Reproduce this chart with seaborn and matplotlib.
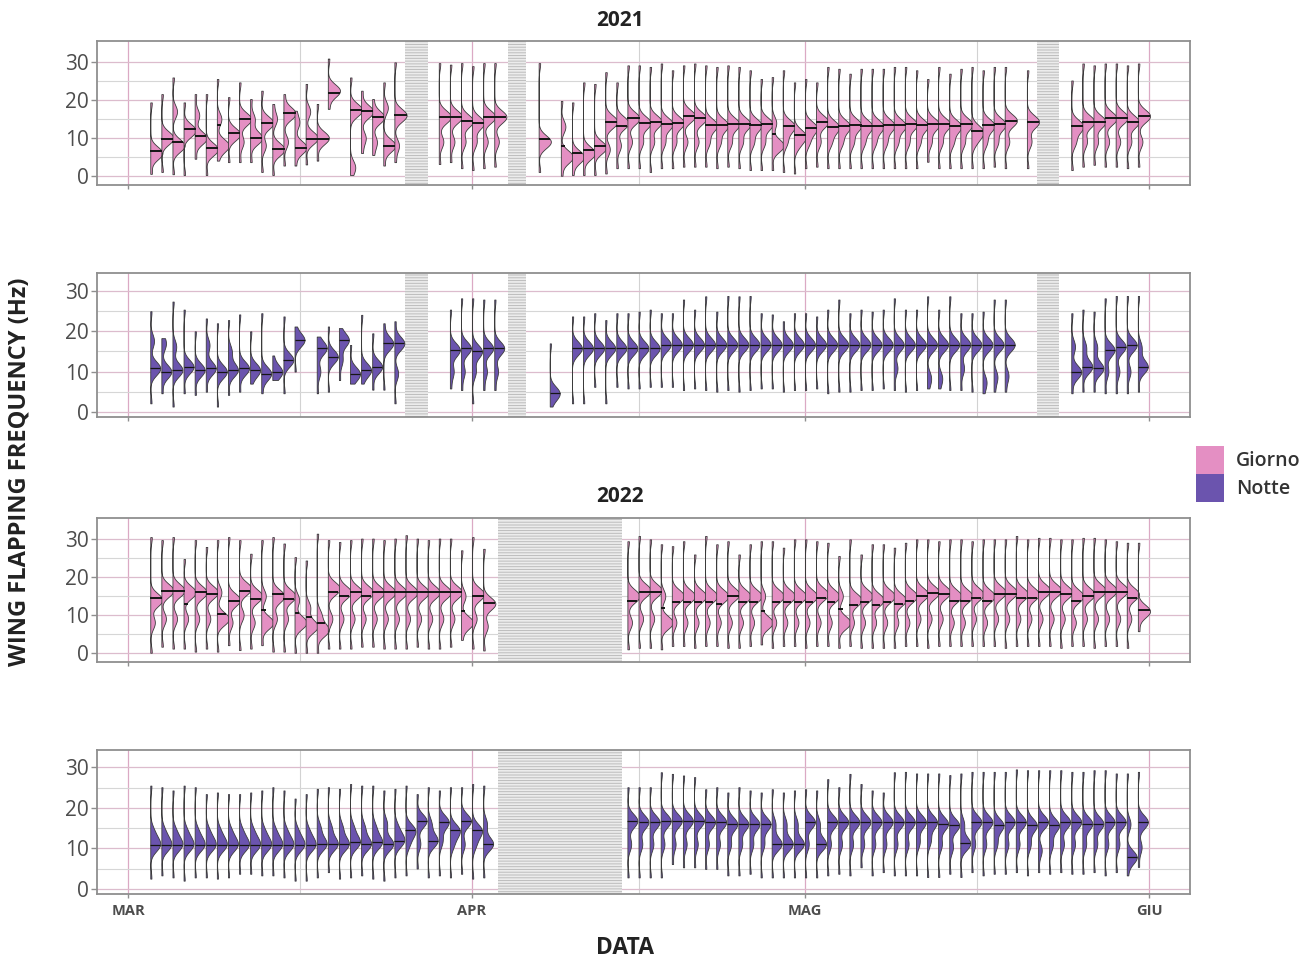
import numpy as np
import pandas as pd
import matplotlib
matplotlib.use("Agg")
import matplotlib.pyplot as plt
from matplotlib.collections import PolyCollection
from matplotlib.patches import Patch
import seaborn as sns

nan = np.nan

# Days are counted from 1 March (day 0).
month_pos = [0, 31, 61, 92]
month_lbl = ["MAR", "APR", "MAG", "GIU"]

# ---------------- 2021 - Giorno ----------------
g21_day = [*range(2, 19), *range(20, 25), *range(28, 34), 37, *range(39, 80), 81, *range(85, 92)]
g21_lo = [0.5, 1, 0.4, 0.2, 4.5, 0.2, 4, 3.6, 3.6, 3.6, 1, 0.2, 2.7, 2.7, 3, 4, 17.7,
          0.2, 6, 5.5, 2.7, 3.6,
          3.1, 3.6, 2, 1.5, 2, 2.4,
          1,
          0, 0.2, 0.2, 0.2, 0.6, 2, 2, 2, 1, 2, 2, 2.4, 2.4, 2.4, 2, 2.4, 2, 1.5, 1.5, 1.5,
          1, 0.6, 2, 2.4, 2, 2, 2, 2, 2, 2, 2, 2, 2, 3.7, 2, 2, 2, 2, 2, 2.4, 2,
          2,
          1.5, 2.4, 2.9, 2.4, 2.4, 2, 2.4]
g21_hi = [19.4, 21.6, 26, 19.4, 21.6, 21.6, 25.6, 20.8, 24.7, 20.3, 22.5, 19, 21.6, 17.2, 24.3, 19, 31,
          26, 22.5, 20.3, 24.7, 30,
          29.8, 29.4, 29.8, 29, 29.8, 29.8,
          29.8,
          19.8, 19.4, 24.7, 24.3, 27.4, 24.7, 29.2, 29.2, 28.8, 29.7, 27.9, 29.2, 29.7, 29.2,
          28.8, 29.2, 28.8, 27.9, 25.6, 26.1, 27.9, 24.7, 25.6, 24.7, 28.8, 28.3, 27, 28.3,
          28.3, 28.3, 28.8, 28.8, 27.9, 25.6, 28.8, 27, 28.3, 28.8, 27.9, 28.8, 28.8,
          27.9,
          25.2, 29.7, 29.2, 29.7, 29.7, 29.2, 29.7]
g21_peak = [6, 10, 8, 12, 10, 7, 8, 11, 15, 10, 14, 7, 16.5, 7.5, 10, 10, 22.5,
            17.4, 17, 15.5, 8, 16,
            15.6, 15.6, 14.5, 14, 15.6, 15.6,
            9,
            5, 5, 6, 7.5, 14.3, 14, 15.2, 14, 14.3, 13.7, 14, 15.8, 15.2, 13.4, 13.4, 13.7,
            13.7, 13.4, 13.7, 8, 13.1, 10.7, 12.7, 14.3, 12.9, 13.1, 13.4, 13.1, 13.1, 13.3,
            13.3, 13.6, 13.3, 13.6, 13.6, 13.1, 13.6, 11.8, 13.3, 13.6, 14.6,
            14.3,
            13.1, 14.3, 14.3, 15.2, 15.4, 14.3, 15.8]
g21_peak2 = [nan, nan, 17, nan, 16, nan, 15, nan, 9, 15, 8, 15, 9, 14, 17, nan, nan,
             2.5, 10, 9, 18, 8,
             9, 9, 9, 9, 9, 9,
             nan,
             13, nan, nan, nan, 7, 8, 9, 9, 9, 9, 9, 9, 9, 9, 9, 9, 9, 9, 9, 14, 9, 8, 9, 9,
             9, 9, 9, 9, 9, 9, 9, 9, 9, 9, 9, 9, 9, 9, 9, 9, 9,
             9,
             9, 9, 9, 9, 9, 9, 9]
g21_med = [6.5, 9.6, 9, 12.3, 10.5, 7.3, 13.4, 11.3, 15, 10, 13.9, 7, 16.5, 7.3, 9.6, 9.6, 22,
           17.4, 17, 15.6, 7.8, 16,
           15.6, 15.6, 14.5, 13.9, 15.6, 15.6,
           9.6,
           7.8, 6, 6.9, 7.8, 14.3, 13.1, 15.2, 14, 14.3, 13.7, 14, 15.8, 15.2, 13.4, 13.4, 13.7,
           13.7, 13.4, 13.7, 11.1, 13.1, 10.7, 12.7, 14.3, 12.9, 13.1, 13.4, 13.1, 13.1, 13.3,
           13.3, 13.6, 13.3, 13.6, 13.6, 13.1, 13.6, 11.8, 13.3, 13.6, 14.6,
           14.3,
           13.1, 14.3, 14.3, 15.2, 15.4, 14.3, 15.8]

# ---------------- 2021 - Notte ----------------
n21_day = [*range(2, 16), *range(17, 25), *range(29, 34), 38, *range(40, 80), *range(85, 92)]
n21_lo = [2.1, 4.6, 1.3, 4.6, 4.2, 5, 1.3, 4.2, 5, 7, 4.6, 7.9, 4.6, 10,
          4.6, 5, 7.9, 7, 7, 5.5, 5.5, 2.1,
          5.8, 5.4, 2.1, 5.4, 5.4,
          1.3,
          2.1, 2.1, 6.2, 2.1, 6.2, 5.8, 5.8, 6.2,
          6.2, 6.2, 5.4, 5.8, 5.4, 5.0, 5.4, 5.0, 5.4, 5.8, 5.8, 5.0, 5.4, 5.4, 5.8, 4.6,
          5.0, 5.0, 5.4, 5.4, 5.8, 5.4, 5.0, 5.4, 5.8, 5.8, 5.4, 5.4, 5.0, 4.6, 5.0, 5.0,
          4.6, 5, 5, 4.6, 4.6, 4.6, 5]
n21_hi = [25, 18.3, 27.4, 25.4, 20, 23.2, 22, 22.8, 24.2, 20, 24.5, 14, 23.7, 21.2,
          18.7, 21.2, 20.8, 16.6, 24.1, 19.5, 22, 22.5,
          25.4, 28.2, 28.2, 27.9, 27.9,
          17,
          23.7, 23.7, 24.5, 22.8, 24.5, 24.5, 24.9, 25.4,
          24.5, 24.5, 27.9, 25.4, 28.7, 24.9, 28.8, 28.7, 28.8, 24.5, 24.2, 22.5, 24.5, 24.5,
          23.7, 25.4, 27.9, 24.5, 25.4, 24.9, 25.4, 28.2, 25.4, 25.4, 28.7, 25.4, 28.7, 24.5,
          24.5, 24.9, 27.9, 27.9,
          24.5, 25.4, 24.9, 28.2, 28.8, 28.8, 28.8]
n21_peak = [10.8, 10, 10.4, 11.2, 10.4, 10.8, 10, 10.4, 10.8, 10.4, 9.5, 10, 12.9, 17.8,
            15.8, 13.7, 17.8, 9.5, 10.4, 11.2, 17, 17,
            15.4, 15.8, 15, 15.8, 15.8,
            4.6,
            15.8, 15.8, 15.8, 15.8, 15.8, 15.8, 15.8, 15.8,
            16.7, 16.7, 16.7, 16.7, 16.7, 16.7, 16.7, 16.7, 16.7, 16.7, 16.7, 16.7, 16.7, 16.7,
            16.7, 16.7, 16.7, 16.7, 16.7, 16.7, 16.7, 16.7, 16.7, 16.7, 16.7, 16.7, 16.7, 16.7,
            16.7, 16.7, 16.7, 16.7,
            9.9, 11.2, 10.8, 15.4, 16.2, 16.6, 11.2]
n21_peak2 = [17.6, 16.7, 16.2, nan, nan, 16.6, nan, 15, nan, nan, nan, nan, nan, nan,
             10, nan, 12.9, nan, nan, nan, nan, 9.5,
             10, 10, 10, 10, 10,
             nan,
             nan, nan, nan, nan, nan, nan, nan, nan,
             nan, nan, nan, nan, nan, nan, nan, nan, nan, nan, nan, nan, nan, nan,
             nan, nan, nan, nan, nan, nan, nan, 10.8, nan, nan, 8.5, 8.5, nan, 10.8,
             nan, 7.5, 8.7, 9,
             16.2, 16, 16, 10, 10, 10, 16]

# ---------------- 2022 - Giorno ----------------
g22_day = [*range(2, 33), *range(45, 92)]
g22_lo = [0, 1.6, 1.1, 1.1, 0.3, 1.1, 0.3, 2, 0.7, 1.1, 2, 0.3, 0.3, 0, 0, 0, 1.1, 1.1, 1.1,
          1.6, 1.6, 1.1, 1.1, 1.1, 1.6, 1.1, 1.1, 1.6, 3.4, 1.1, 0.6,
          0.9, 1.3, 1.3, 0.9, 1.8, 1.8, 1.3, 1.8, 1.8, 1.3, 1.3, 1.8, 2.2, 1.3, 1.8, 1.8,
          1.3, 1.8, 1.8, 1.3, 1.8, 1.3, 1.3, 1.3, 1.3, 1.8, 1.8, 1.3, 1.8, 1.8, 1.8, 1.8,
          1.8, 1.8, 1.3, 1.8, 1.8, 1.8, 1.8, 1.3, 1.8, 1.8, 1.3, 1.8, 1.8, 1.3, 5.7]
g22_hi = [30.6, 29.8, 30.6, 24.8, 29.8, 28, 29.8, 30.6, 29.8, 26.2, 29.8, 30.6, 28.9, 25.3,
          24.4, 31.5, 29.8, 29.3, 29.8, 30.2, 30.2, 29.8, 30.2, 31.1, 30.2, 29.8, 30.2, 30.2,
          27.1, 30.6, 27.5,
          29.5, 30.9, 30, 28.7, 28.2, 29.5, 26, 30.9, 28.7, 29.5, 26, 28.7, 29.5, 29.5, 27.8,
          30, 30, 29.5, 29.1, 25.6, 30, 26, 28.7, 28.7, 27.8, 29.1, 30, 30, 29.5, 30, 30,
          29.5, 30, 30, 30, 30.9, 30, 30.4, 30.4, 30, 30, 30.4, 30.4, 30, 29.5, 29.1, 29.1]
g22_peak = [14, 16.5, 16.5, 16, 16, 16, 9, 14, 17, 15, 8, 15, 15, 8, 7, 6, 17, 16, 16, 16,
            16, 16, 16, 16, 16, 16, 16, 16, 8, 15.5, 13,
            15, 16.5, 16.5, 8, 15, 15, 15, 15, 15, 15.5, 15, 15, 8, 15, 15, 15, 15, 15.5, 15,
            8, 14, 15, 14, 15, 14, 15, 15.5, 16, 16, 15, 15, 15.5, 15, 16, 16, 15.5, 15.5,
            16.5, 16.5, 16, 15, 15.5, 16.5, 16.5, 16.5, 15.5, 11]
g22_peak2 = [8, 9, 9, 9, 9, 9, 16, 8, 10, 8, 15, 9, 9, 14, 12, 10, 9, 9, 9, 9, 9, 9, 9, 9,
             9, 9, 9, 9, 15, 9, 7,
             8, 9, 9, 15, 8, 8, 8, 8, 8, 8, 8, 8, 15, 8, 8, 8, 8, 8, 8, 15, 8, 8, 8, 8, 8,
             8, 9, 9, 9, 8, 8, 9, 8, 9, 9, 9, 9, 9, 9, 9, 8, 9, 9, 9, 9, 9, nan]
g22_med = [14.4, 16.3, 16.3, 12.8, 16.2, 15.6, 10.3, 13.8, 16.3, 14.1, 11.4, 15.6, 14.1, 10.5,
           9.4, 7.9, 16, 15, 16, 15, 16, 16, 16, 16, 16, 16, 16, 16, 11, 15, 13.2,
           13.8, 16.1, 16.1, 11.9, 13.5, 13.5, 13.5, 13.5, 13, 15, 13.5, 13.5, 11, 13.5, 13.5,
           13.5, 13.5, 14.4, 13.5, 11.7, 12.6, 13.5, 12.6, 13.5, 12.8, 13.8, 15, 15.9, 15.6,
           13.8, 13.8, 14.4, 13.8, 15.6, 15.6, 14.4, 14.4, 16.1, 16.1, 15.6, 13.8, 15, 16.1,
           16.1, 16.1, 14.4, 11.2]

# ---------------- 2022 - Notte ----------------
n22_day = [*range(2, 33), *range(45, 92)]
n22_lo = [2.5, 3.3, 2.8, 2.0, 2.8, 2.8, 2.5, 2.8, 3.7, 3.7, 3.3, 3.3, 2.8, 2.0, 2.0, 2.8,
          4.1, 2.5, 2.8, 3.3, 2.5, 2.0, 2.8, 3.3, 5.0, 2.8, 3.3, 2.8, 3.7, 2.5, 2.8,
          2.8, 2.8, 2.8, 2.8, 6.1, 5.3, 5.3, 4.9, 4.9, 3.3, 3.3, 3.7, 2.8, 2.8, 2.8, 2.8,
          2.8, 2.8, 3.3, 3.7, 3.3, 5.3, 3.3, 4.1, 3.3, 3.3, 3.3, 2.9, 2.9, 3.7, 2.9, 4.1,
          3.3, 3.7, 3.7, 4.1, 3.3, 4.1, 3.7, 4.1, 3.7, 3.7, 4.1, 3.3, 4.1, 3.3, 5.4]
n22_hi = [25.5, 25.1, 24.3, 25.5, 25.1, 23.4, 23.8, 23.4, 23.4, 23.8, 24.3, 25.1, 24.3, 22.3,
          23.4, 24.7, 25.1, 24.7, 25.9, 25.5, 25.5, 24.3, 24.7, 25.5, 23.4, 25.1, 24.3, 25.1,
          25.1, 25.9, 25.5,
          25.1, 25.1, 25.1, 28.8, 28.4, 28, 27.6, 24.6, 25.1, 23.8, 25.1, 24.3, 23.8, 24.6,
          23.8, 24.3, 24.6, 24.3, 27.1, 25.1, 28.4, 25.9, 24.3, 23.8, 28.8, 28.9, 28.5, 28.5,
          28.5, 28.1, 28.5, 28.9, 28.9, 28.9, 28.9, 29.5, 29.3, 29.3, 29.3, 29.3, 28.9, 28.9,
          29.3, 29.3, 28.5, 28.5, 28.9]
n22_peak = [10.9, 10.9, 10.9, 10.9, 10.9, 10.9, 10.9, 10.9, 10.9, 10.9, 10.9, 10.9, 10.9,
            10.9, 10.9, 11.1, 11.1, 11.1, 11.5, 11.1, 11.5, 11.1, 11.9, 14.4, 16.8, 11.9,
            16.5, 14.4, 16.8, 14.4, 11.1,
            16.8, 16.5, 16.5, 16.8, 16.8, 16.8, 16.8, 16.5, 16.5, 16, 16, 16, 16, 11.1, 11.1,
            11.1, 16.5, 11.1, 16.5, 16.5, 16.5, 16.5, 16.5, 16.5, 16.5, 16.5, 16.5, 16.5,
            16.1, 15.7, 11.2, 16.5, 16.5, 15.7, 16.5, 16.5, 15.7, 16.5, 15.7, 16.5, 16.5,
            16.1, 16.1, 16.5, 16.5, 7.8, 16.5]
n22_peak2 = [14, 14, 14, 14, 14, 14, 14, 14, 14, 14, 14, 14, 14, 14, 14, 15, 15, 15, 15, 15,
             15, 16, 15, 11.1, 11.1, 16, 11.9, 11, 11, 11, 16,
             11, 11, 11, 11, 11, 11, 11, 11, 11, 11, 11, 11, 11.1, 16, 16, 16, 11, 16, 11,
             11, 11, 11, 11, 11, 11, 11, 11.6, 12, 11, 10.3, 16, 11, 11, 11.2, 11, 11, 11,
             9.5, 11, 11, 11, 11, 11, 11, 11, 16, 10.3]

# Periods without recordings (day ranges)
gaps_2021 = [(25.0, 27.05), (34.2, 35.9), (81.9, 83.9)]
gaps_2022 = [(33.3, 44.5)]

DAY_COLOR = "#e48fc3"
NIGHT_COLOR = "#6b54ae"
EDGE = "#3b3b3b"
BW_HZ = 1.7


def build_samples(days, lo, hi, peak, peak2):
    rows = []
    for d, a, b, p, q in zip(days, lo, hi, peak, peak2):
        vals = [a, b] + [p] * 8 + ([] if np.isnan(q) else [q] * 3)
        rows.extend((d, v) for v in vals)
    return pd.DataFrame(rows, columns=["giorno", "hz"])


def fixed_bw(kde):
    return BW_HZ / np.std(kde.dataset, ddof=1)


sns.set_style("white")
plt.rcParams["font.family"] = ["Open Sans", "DejaVu Sans"]
plt.rcParams["hatch.linewidth"] = 1.3

W, H = 1310, 959
fig = plt.figure(figsize=(W / 100, H / 100), dpi=100)


def box(left, top, right, bottom):
    return [left / W, 1 - bottom / H, (right - left) / W, (bottom - top) / H]


panels = [
    dict(rect=box(97, 41, 1190, 185), days=g21_day, lo=g21_lo, hi=g21_hi, peak=g21_peak,
         peak2=g21_peak2, med=g21_med, color=DAY_COLOR, gaps=gaps_2021,
         ylim=(-2.45, 35.65), width=2.2, mlw=1.4),
    dict(rect=box(97, 273, 1190, 417), days=n21_day, lo=n21_lo, hi=n21_hi, peak=n21_peak,
         peak2=n21_peak2, med=n21_peak, color=NIGHT_COLOR, gaps=gaps_2021,
         ylim=(-1.3, 34.5), width=1.8, mlw=0.9),
    dict(rect=box(97, 518, 1190, 662), days=g22_day, lo=g22_lo, hi=g22_hi, peak=g22_peak,
         peak2=g22_peak2, med=g22_med, color=DAY_COLOR, gaps=gaps_2022,
         ylim=(-2.45, 35.65), width=2.2, mlw=1.4),
    dict(rect=box(97, 750, 1190, 894), days=n22_day, lo=n22_lo, hi=n22_hi, peak=n22_peak,
         peak2=n22_peak2, med=n22_peak, color=NIGHT_COLOR, gaps=gaps_2022,
         ylim=(-1.3, 34.3), width=1.8, mlw=0.9),
]

minor_x = [(a + b) / 2 for a, b in zip(month_pos[:-1], month_pos[1:])]

for i, p in enumerate(panels):
    ax = fig.add_axes(p["rect"])
    df = build_samples(p["days"], p["lo"], p["hi"], p["peak"], p["peak2"])
    n0 = len(ax.collections)
    sns.violinplot(data=df, x="giorno", y="hz", native_scale=True, ax=ax,
                   color=p["color"], saturation=1, linecolor=EDGE, linewidth=0.6,
                   inner=None, cut=0, density_norm="width", width=p["width"],
                   bw_method=fixed_bw, zorder=3)

    # keep only the right half of each violin
    halves = []
    for coll in ax.collections[n0:]:
        if not isinstance(coll, PolyCollection):
            continue
        v = coll.get_paths()[0].vertices.copy()
        c = 0.5 * (v[:, 0].min() + v[:, 0].max())
        v[:, 0] = np.maximum(v[:, 0], c)
        coll.set_verts([v])
        halves.append((c, v))
    halves.sort(key=lambda t: t[0])

    # median marks
    for (c, v), m in zip(halves, p["med"]):
        right = v[v[:, 0] > c + 1e-9]
        order = np.argsort(right[:, 1])
        xe = np.interp(m, right[order, 1], right[order, 0])
        xe = max(xe, c + 0.4)
        ax.plot([c, xe], [m, m], color="#151515", lw=p["mlw"], solid_capstyle="butt",
                zorder=4)

    for a, b in p["gaps"]:
        ax.axvspan(a, b, facecolor="#bcbcbc", edgecolor="#ececec", hatch="------",
                   linewidth=0, zorder=2)

    ax.set_xlim(-2.8, 95.7)
    ax.set_ylim(*p["ylim"])
    ax.set_xticks(month_pos)
    ax.set_xticks(minor_x, minor=True)
    ax.set_yticks([0, 10, 20, 30])
    ax.set_yticks([5, 15, 25], minor=True)
    ax.set_xlabel("")
    ax.set_ylabel("")
    ax.grid(which="major", axis="y", color="#dcbccd", lw=0.9, zorder=0)
    ax.grid(which="minor", axis="y", color="#d6d6d6", lw=0.8, zorder=0)
    ax.grid(which="major", axis="x", color="#dba9c4", lw=0.9, zorder=0)
    ax.grid(which="minor", axis="x", color="#d2d2d2", lw=0.8, zorder=0)
    ax.set_axisbelow(True)
    for s in ax.spines.values():
        s.set_visible(True)
        s.set_color("#8f8f8f")
        s.set_linewidth(1.3)
    ax.tick_params(axis="y", which="major", labelsize=15, labelcolor="#4d4d4d",
                   length=4, color="#8f8f8f", width=1, pad=2, left=True)
    ax.tick_params(axis="x", which="major", length=3, color="#8f8f8f", width=1,
                   bottom=True)
    ax.tick_params(which="minor", length=0)
    if i == len(panels) - 1:
        ax.set_xticklabels(month_lbl)
        ax.tick_params(axis="x", labelsize=10.5, labelcolor="#4d4d4d", pad=4)
        for t in ax.get_xticklabels():
            t.set_fontweight("bold")
    else:
        ax.set_xticklabels([])

fig.text(620 / W, 1 - 20 / H, "2021", ha="center", va="center", fontsize=15,
         fontweight="bold", color="#222222")
fig.text(620 / W, 1 - 496 / H, "2022", ha="center", va="center", fontsize=15,
         fontweight="bold", color="#222222")
fig.text(20 / W, 1 - 472 / H, "WING FLAPPING FREQUENCY (Hz)", rotation=90,
         ha="center", va="center", fontsize=17, fontweight="bold", color="#222222")
fig.text(625 / W, 1 - 948 / H, "DATA", ha="center", va="center", fontsize=16.5,
         fontweight="bold", color="#222222")

handles = [Patch(facecolor=DAY_COLOR, edgecolor="none"),
           Patch(facecolor=NIGHT_COLOR, edgecolor="none")]
fig.legend(handles, ["Giorno", "Notte"], loc="center left",
           bbox_to_anchor=(1196 / W, 1 - 474 / H), frameon=False,
           prop={"size": 14, "weight": "semibold"}, labelcolor="#333333",
           handlelength=1.45, handleheight=1.84, handletextpad=0.6,
           labelspacing=0.0, borderaxespad=0, borderpad=0)

fig.savefig("out.png", dpi=100)
